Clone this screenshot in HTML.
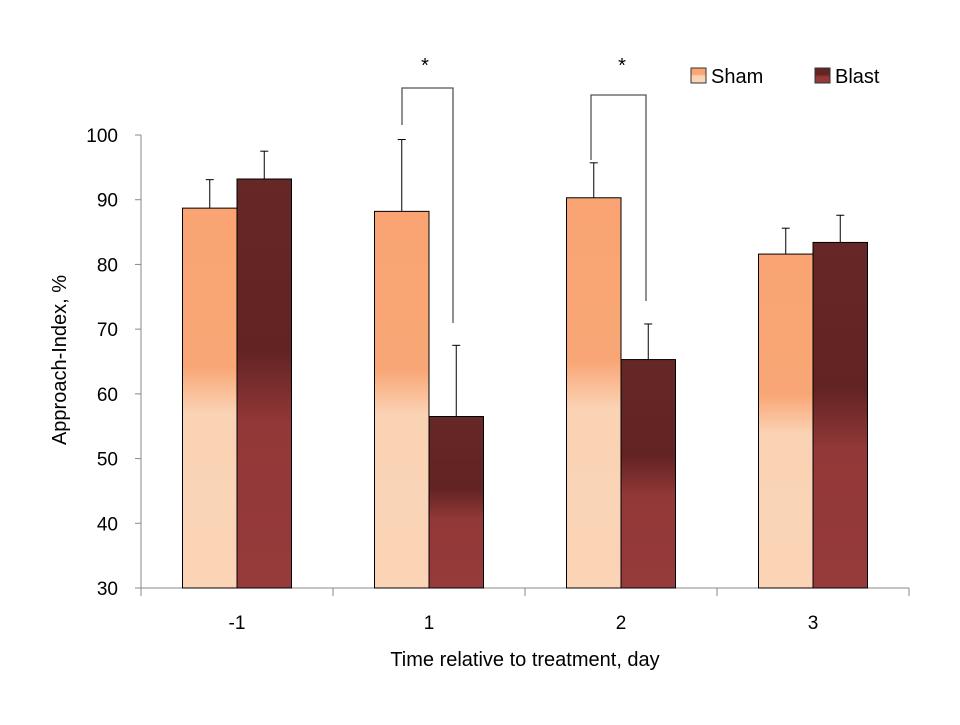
<!DOCTYPE html>
<html><head><meta charset="utf-8"><style>
body{margin:0;background:#fff;}
svg text{font-family:"Liberation Sans",sans-serif;fill:#000;}
</style></head><body>
<svg id="chart" width="960" height="720" xmlns="http://www.w3.org/2000/svg">
<defs>
<linearGradient id="gSham" x1="0" y1="0" x2="0" y2="1">
<stop offset="0" stop-color="#f9a472"/><stop offset="0.42" stop-color="#f9a676"/><stop offset="0.54" stop-color="#fad3b5"/><stop offset="1" stop-color="#fbd4b6"/>
</linearGradient>
<linearGradient id="gBlast" x1="0" y1="0" x2="0" y2="1">
<stop offset="0" stop-color="#662727"/><stop offset="0.42" stop-color="#632323"/><stop offset="0.6" stop-color="#933838"/><stop offset="1" stop-color="#963a3b"/>
</linearGradient>
</defs>
<g id="plot"></g>
</svg>
<script>
const categories = ["-1","1","2","3"];
const shamValues = [88.7, 88.2, 90.3, 81.6];
const shamErrors = [4.4, 11.1, 5.4, 4.0];
const blastValues = [93.2, 56.5, 65.3, 83.4];
const blastErrors = [4.3, 11.0, 5.5, 4.2];
const yTicks = [30,40,50,60,70,80,90,100];

const NS="http://www.w3.org/2000/svg";
const g=document.getElementById('plot');
const X0=141, X1=909, Y0=588, YTOP=135, YMIN=30, YMAX=100;
const y=v=>Y0-(v-YMIN)/(YMAX-YMIN)*(Y0-YTOP);
const catW=(X1-X0)/categories.length;
const cx=i=>X0+catW*(i+0.5);
function el(t,a,txt){const e=document.createElementNS(NS,t);for(const k in a)e.setAttribute(k,a[k]);if(txt!==undefined)e.textContent=txt;g.appendChild(e);return e;}

// y axis
let e=el('line',{x1:X0,y1:YTOP,x2:X0,y2:Y0,stroke:'#888','stroke-width':1});


yTicks.forEach(t=>{
  let l=el('line',{x1:X0-6,y1:y(t),x2:X0,y2:y(t),stroke:'#888'});
  
  
  let tx=el('text',{x:118,y:y(t)+7,'text-anchor':'end','font-size':19},t);
  
  
});
// x axis
e=el('line',{x1:X0,y1:Y0,x2:X1,y2:Y0,stroke:'#888'});


for(let i=0;i<=categories.length;i++){
  let l=el('line',{x1:X0+catW*i,y1:Y0,x2:X0+catW*i,y2:Y0+8,stroke:'#888'});
  
  
}
const bw=54.5;
categories.forEach((c,i)=>{
  let tx=el('text',{x:cx(i),y:629,'text-anchor':'middle','font-size':19},c);
  
  
  [[shamValues,shamErrors,'url(#gSham)',-bw,'sham'],[blastValues,blastErrors,'url(#gBlast)',0,'blast']].forEach(([vals,errs,fill,off,nm])=>{
    const bx=cx(i)+off, top=y(vals[i]);
    let el1=el('line',{x1:bx+bw/2,y1:y(vals[i]+errs[i]),x2:bx+bw/2,y2:top,stroke:'#000'});
    
    
    let cap=el('line',{x1:bx+bw/2-4,y1:y(vals[i]+errs[i]),x2:bx+bw/2+4,y2:y(vals[i]+errs[i]),stroke:'#000'});
    
    
    let r=el('rect',{x:bx,y:top,width:bw,height:Y0-top,fill:fill,stroke:'#000','stroke-width':1});
    
    
  });
});
</script>
<svg style="position:absolute;left:0;top:0" width="960" height="720" xmlns="http://www.w3.org/2000/svg">
<polyline points="402,125 402,88 453,88 453,323" fill="none" stroke="#555" stroke-width="1.3"/>
<polyline points="591,160 591,95 646,95 646,301" fill="none" stroke="#555" stroke-width="1.3"/>
<text x="425" y="72" text-anchor="middle" font-size="20" font-family="Liberation Sans,sans-serif">*</text>
<text x="622" y="72" text-anchor="middle" font-size="20" font-family="Liberation Sans,sans-serif">*</text>
<rect x="691" y="68" width="15" height="15" fill="url(#gSham)" stroke="#333"/>
<text x="711" y="83" font-size="20" font-family="Liberation Sans,sans-serif">Sham</text>
<rect x="815" y="68" width="15" height="15" fill="url(#gBlast)" stroke="#333"/>
<text x="835" y="83" font-size="20" font-family="Liberation Sans,sans-serif">Blast</text>
<text x="525" y="666" text-anchor="middle" font-size="20" font-family="Liberation Sans,sans-serif">Time relative to treatment, day</text>
<text x="0" y="0" transform="translate(66,360) rotate(-90)" text-anchor="middle" font-size="20" font-family="Liberation Sans,sans-serif">Approach-Index, %</text>
</svg>
</body></html>
